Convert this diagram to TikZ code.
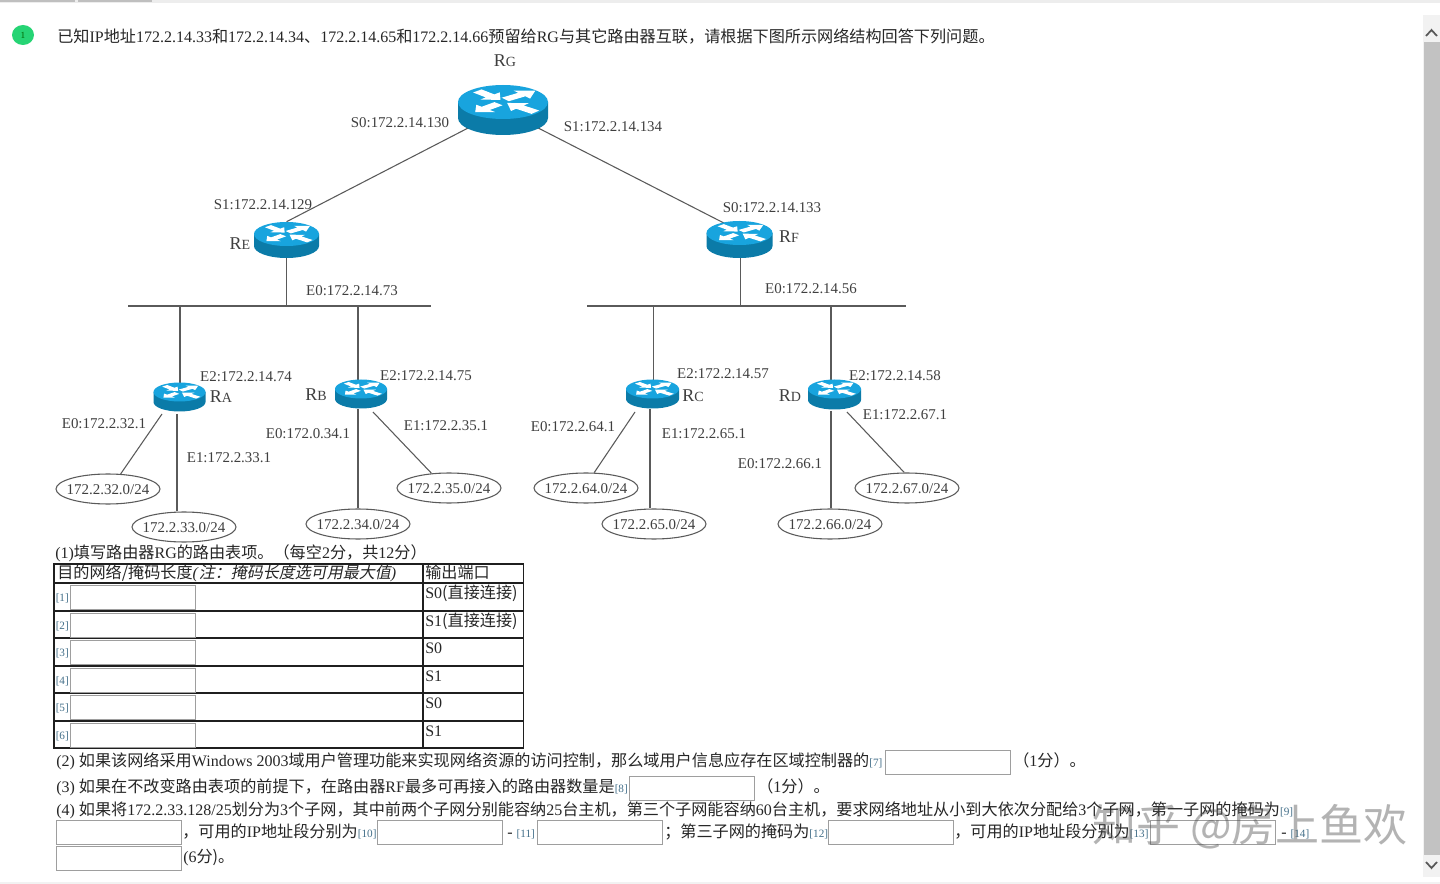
\documentclass[tikz,border=0pt]{standalone}
\usepackage{fontspec}
\setmainfont{Liberation Serif}
\newfontfamily\cjk{Noto Sans CJK SC}
\newfontfamily\cjkit[FakeSlant=0.2]{Noto Sans CJK SC}
\usetikzlibrary{shapes.geometric}
\pgfdeclarelayer{bg}
\pgfdeclarelayer{top}
\pgfsetlayers{bg,main,top}
\definecolor{ink}{HTML}{262626}
\definecolor{lab}{HTML}{3F3F3F}
\definecolor{wire}{HTML}{5A5A5A}
\definecolor{rtop}{HTML}{18A4DE}
\definecolor{rside}{HTML}{0B7BA8}
\definecolor{tag}{HTML}{44708A}
\newcommand{\zh}[1]{{\cjk\fontsize{12.1}{13}\selectfont #1}}
\newcommand{\zhi}[1]{{\cjkit\fontsize{12}{13}\selectfont #1}}
\newcommand{\tagt}[1]{{\color{tag}\fontsize{8.4}{9}\selectfont[#1]}}
\newcommand{\rarr}[4]{% x y angle len
  \fill[white,shift={(#1,#2)},rotate=#3,xscale=#4]
    (0,-.13)--(.55,-.13)--(.55,-.3)--(1,0)--(.55,.3)--(.55,.13)--(0,.13)--cycle;}
% name, cx, top-cy, rx, ry, height
\newcommand{\router}[6]{%
  \begin{scope}[shift={(#2,#3)}]
    \fill[rside] (-#4,0) -- (-#4,#6) arc[start angle=180,end angle=360,x radius=#4,y radius=-#5] -- (#4,0) -- cycle;
    \fill[rtop] (0,0) ellipse[x radius=#4,y radius=#5];
    \begin{scope}[xscale=#4,yscale=#5]
      \rarr{-.57}{-.65}{-46}{.74}
      \rarr{.05}{-.15}{38}{.85}
      \rarr{-.1}{.1}{224}{.72}
      \rarr{.72}{.6}{139}{.83}
    \end{scope}
  \end{scope}
  \node[inner sep=0,minimum width={1.5*#4*1pt},minimum height={0.75*(2*#5+#6)*1pt}] (#1) at (#2,#3+0.5*#6) {};}
\tikzset{
  x=0.75pt,y=-0.75pt,
  link/.style={draw=wire,line width=0.8pt},
  lbl/.style={inner sep=0,yshift=-.75pt,text=lab,font=\fontsize{11.2}{13}\selectfont},
  rname/.style={inner sep=0,text=lab,font=\fontsize{13.5}{15}\selectfont},
  netw/.style={ellipse,draw=wire,line width=0.8pt,fill=white,inner sep=0,minimum width=78pt,minimum height=22.5pt,text=lab,font=\fontsize{11.2}{13}\selectfont},
  txt/.style={inner sep=0,anchor=base west,text=ink,font=\fontsize{12}{13}\selectfont},
  field/.style={draw=black!38,line width=0.8pt,fill=white,inner sep=0,minimum width=94pt,minimum height=18pt,anchor=north west},
  grid/.style={draw=black!88,line width=1.1pt}
}
\newcommand{\nettext}[1]{\makebox[0pt]{\raisebox{-.38em}[0pt][0pt]{#1}}}
\begin{document}
\begin{tikzpicture}
\useasboundingbox (0,0) rectangle (1440,884);
\begin{pgfonlayer}{bg}
\fill[white] (0,0) rectangle (1440,884);
\end{pgfonlayer}
% browser chrome
\fill[black!7] (0,0) rectangle (1440,3);
\fill[black!25] (0,0) rectangle (75,2);
\fill[black!25] (78,0) rectangle (152,2);
\fill[black!5] (0,882) rectangle (1440,884);
\fill[black!5] (1423,15) rectangle (1440,877);
\fill[black!24] (1424,42) rectangle (1440,855);
\draw[black!65,line width=1.3pt] (1426,36) -- (1431.5,30) -- (1437,36);
\draw[black!65,line width=1.3pt] (1426,862) -- (1431.5,868) -- (1437,862);
% number badge
\node[ellipse,fill=green!55!cyan!80!black!85,inner sep=0,minimum width=16.5pt,minimum height=15pt,text=black!60!green,font=\fontsize{7}{8}\selectfont] (badge) at (23,35) {1};
\node[txt] (q0) at (57,42.5) {\zh{已知}IP\zh{地址}172.2.14.33\zh{和}172.2.14.34\zh{、}172.2.14.65\zh{和}172.2.14.66\zh{预留给}RG\zh{与其它路由器互联，请根据下图所示网络结构回答下列问题。}};
% routers
\router{rg}{503}{102}{45}{17}{16}
\router{re}{286.5}{234}{32.5}{12}{12}
\router{rf}{739.5}{233}{33}{12}{13}
\router{ra}{179.5}{392}{26}{9.5}{10}
\router{rb}{361}{389}{26}{9.5}{10}
\router{rc}{652.5}{389}{26.5}{9.5}{10}
\router{rd}{834.5}{389}{26.5}{9.5}{11}
% networks
\node[netw] (n32) at (108,489) {\nettext{172.2.32.0/24}};
\node[netw] (n33) at (184,527) {\nettext{172.2.33.0/24}};
\node[netw] (n34) at (358,524) {\nettext{172.2.34.0/24}};
\node[netw] (n35) at (449,488) {\nettext{172.2.35.0/24}};
\node[netw] (n64) at (586,488) {\nettext{172.2.64.0/24}};
\node[netw] (n65) at (654,524) {\nettext{172.2.65.0/24}};
\node[netw] (n66) at (830,524) {\nettext{172.2.66.0/24}};
\node[netw] (n67) at (907,488) {\nettext{172.2.67.0/24}};
% connectors
\coordinate (busLw) at (128,306);
\coordinate (busLe) at (431,306);
\coordinate (busRw) at (587,306);
\coordinate (busRe) at (906,306);
\coordinate (rf-in) at (739.5,231);
\coordinate (ra-e0) at (162,414);
\coordinate (ra-e1) at (177,414);
\coordinate (rb-e0) at (358,409);
\coordinate (rb-e1) at (373,412);
\coordinate (rc-e0) at (635,412);
\coordinate (rc-e1) at (650,409);
\coordinate (rd-e0) at (831,411);
\coordinate (rd-e1) at (847,412);
\coordinate (rf-e) at (740.5,258);
\coordinate (ra-e2) at (180,392);
\coordinate (rb-e2) at (358,389);
\coordinate (rc-e2) at (653.5,389);
\coordinate (rd-e2) at (831,389);
\begin{pgfonlayer}{bg}
\draw[link] (rg.center) -- (re.north);
\draw[link] (rg.center) -- (rf-in);
\draw[link] (busLw) -- (busLe);
\draw[link] (busRw) -- (busRe);
\draw[link] (re.south) -- (re.south |- busLw);
\draw[link] (rf-e) -- (rf-e |- busRw);
\draw[link] (ra-e2) -- (ra-e2 |- busLw);
\draw[link] (rb-e2) -- (rb-e2 |- busLw);
\draw[link] (rc-e2) -- (rc-e2 |- busRw);
\draw[link] (rd-e2) -- (rd-e2 |- busRw);
\draw[link] (ra-e0) -- (n32.50);
\draw[link] (ra-e1) -- (ra-e1 |- n33.north);
\draw[link] (rb-e0) -- (rb-e0 |- n34.north);
\draw[link] (rb-e1) -- (n35.140);
\draw[link] (rc-e0) -- (n64.62);
\draw[link] (rc-e1) -- (rc-e1 |- n65.north);
\draw[link] (rd-e0) -- (rd-e0 |- n66.north);
\draw[link] (rd-e1) -- (n67.100);
\end{pgfonlayer}
% router names
\node[rname] (lrg) at (505,61) {R{\fontsize{10.5}{12}\selectfont G}};
\node[rname] (lre) at (240,244) {R{\fontsize{10.5}{12}\selectfont E}};
\node[rname] (lrf) at (789,237) {R{\fontsize{10.5}{12}\selectfont F}};
\node[rname] (lra) at (221,397) {R{\fontsize{10.5}{12}\selectfont A}};
\node[rname] (lrb) at (316,395) {R{\fontsize{10.5}{12}\selectfont B}};
\node[rname] (lrc) at (693,396) {R{\fontsize{10.5}{12}\selectfont C}};
\node[rname] (lrd) at (790,396) {R{\fontsize{10.5}{12}\selectfont D}};
% interface labels
\node[lbl] (a1) at (400,122) {S0:172.2.14.130};
\node[lbl] (a2) at (613,126) {S1:172.2.14.134};
\node[lbl] (a3) at (263,204) {S1:172.2.14.129};
\node[lbl] (a4) at (772,207) {S0:172.2.14.133};
\node[lbl] (a5) at (352,290) {E0:172.2.14.73};
\node[lbl] (a6) at (811,288) {E0:172.2.14.56};
\node[lbl] (a7) at (246,376) {E2:172.2.14.74};
\node[lbl] (a8) at (426,375) {E2:172.2.14.75};
\node[lbl] (a9) at (104,423) {E0:172.2.32.1};
\node[lbl] (a10) at (229,457) {E1:172.2.33.1};
\node[lbl] (a11) at (308,433) {E0:172.0.34.1};
\node[lbl] (a12) at (446,425) {E1:172.2.35.1};
\node[lbl] (a13) at (723,373) {E2:172.2.14.57};
\node[lbl] (a14) at (895,375) {E2:172.2.14.58};
\node[lbl] (a15) at (573,426) {E0:172.2.64.1};
\node[lbl] (a16) at (704,433) {E1:172.2.65.1};
\node[lbl] (a17) at (780,463) {E0:172.2.66.1};
\node[lbl] (a18) at (905,414) {E1:172.2.67.1};
% table
\node[txt] (q1) at (55,558) {(1)\zh{填写路由器}RG\zh{的路由表项。（每空}2\zh{分，共}12\zh{分）}};
\draw[grid] (54,564) rectangle (523.5,748);
\draw[grid] (423,564) -- (423,748);
\foreach \yy in {583,611,638,666,693,721} \draw[grid] (54,\yy) -- (523.5,\yy);
\node[txt] (h1) at (57,578) {\zh{目的网络/掩码长度}\textit{(}\zhi{注：掩码长度选可用最大值}\textit{)}};
\node[txt] (h2) at (425,578) {\zh{输出端口}};
\foreach \nm/\yy/\tg/\pp in {f1/585/1/S0\zh{(直接连接)},f2/613/2/S1\zh{(直接连接)},f3/640/3/S0,f4/668/4/S1,f5/695/5/S0,f6/723/6/S1}{
  \node[field] (\nm) at (69.5,\yy) {};
  \node[txt] (t\nm) at (55.5,\yy+16) {\tagt{\tg}};
  \node[txt] (p\nm) at (425,\yy+13) {\pp};
}
% question lines
\node[txt] (q2) at (56,766) {(2) \zh{如果该网络采用}Windows 2003\zh{域用户管理功能来实现网络资源的访问控制，那么域用户信息应存在区域控制器的}\tagt{7}};
\node[field] (f7) at (885,750) {};
\node[txt] (q2b) at (1013,766) {\zh{（}1\zh{分）。}};
\node[txt] (q3) at (56,792) {(3) \zh{如果在不改变路由表项的前提下，在路由器}RF\zh{最多可再接入的路由器数量是}\tagt{8}};
\node[field] (f8) at (629,776) {};
\node[txt] (q3b) at (757,792) {\zh{（}1\zh{分）。}};
\node[txt] (q4) at (56,815) {(4) \zh{如果将}172.2.33.128/25\zh{划分为}3\zh{个子网，其中前两个子网分别能容纳}25\zh{台主机，第三个子网能容纳}60\zh{台主机，要求网络地址从小到大依次分配给}3\zh{个子网，第一子网的掩码为}\tagt{9}};
\node[field] (f9) at (56,820) {};
\node[txt] (q5a) at (182,837) {\zh{，可用的}IP\zh{地址段分别为}\tagt{10}};
\node[field] (f10) at (377,820) {};
\node[txt] (q5b) at (507,837) {- \tagt{11}};
\node[field] (f11) at (537,820) {};
\node[txt] (q5c) at (664,837) {\zh{；第三子网的掩码为}\tagt{12}};
\node[field] (f12) at (828,820) {};
\node[txt] (q5d) at (954,837) {\zh{，可用的}IP\zh{地址段分别为}\tagt{13}};
\node[field] (f13) at (1150,820) {};
\node[txt] (q5e) at (1281,837) {- \tagt{14}};
\node[field] (f14) at (56,846) {};
\node[txt] (q6) at (183,862) {(6\zh{分)。}};
% watermark
\begin{pgfonlayer}{top}
\node[inner sep=0,anchor=base west,opacity=.42,text=black!70,font=\cjk\fontsize{33}{35}\selectfont] (wm) at (1092,841) {知乎 @房上鱼欢};
\end{pgfonlayer}
\end{tikzpicture}
\end{document}
